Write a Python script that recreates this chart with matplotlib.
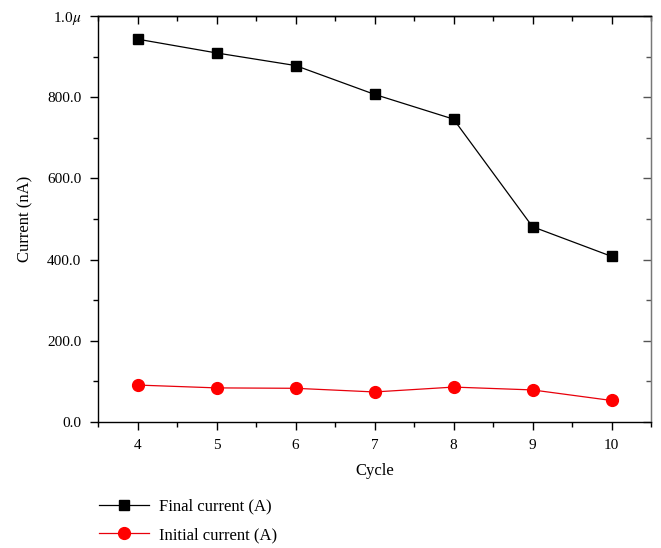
import matplotlib
matplotlib.use("Agg")
import matplotlib.pyplot as plt
from matplotlib.ticker import MultipleLocator, FixedLocator

plt.rcParams['font.family'] = ['Liberation Serif', 'DejaVu Serif']
plt.rcParams['mathtext.fontset'] = 'stix'

cycles = [4, 5, 6, 7, 8, 9, 10]
final_current = [943, 909, 878, 807, 746, 481, 408]
initial_current = [91, 84, 83, 74, 86, 79, 53]
ytick_values = [0, 200, 400, 600, 800, 1000]
ytick_labels = ['0.0', '200.0', '400.0', '600.0', '800.0', r'1.0$\mu$']
series_labels = ['Final current (A)', 'Initial current (A)']

W, H = 661, 548
fig = plt.figure(figsize=(W / 100, H / 100), dpi=100)
ax = fig.add_axes([98 / W, 1 - 422 / H, (651 - 98) / W, (422 - 16) / H])

l1, = ax.plot(cycles, final_current, color='black', lw=0.9, marker='s', ms=7.5,
              markerfacecolor='black', markeredgecolor='black', label=series_labels[0])
l2, = ax.plot(cycles, initial_current, color='#e8000b', lw=0.9, marker='o', ms=8.5,
              markerfacecolor='#ff0000', markeredgecolor='#ff0000', label=series_labels[1])

ax.set_xlim(3.5, 10.5)
ax.set_ylim(0, 1000)
ax.xaxis.set_major_locator(FixedLocator(cycles))
ax.xaxis.set_minor_locator(MultipleLocator(0.5))
ax.yaxis.set_major_locator(FixedLocator(ytick_values))
ax.yaxis.set_minor_locator(MultipleLocator(100))
ax.set_yticklabels(ytick_labels)

ax.tick_params(which='major', direction='out', length=6, width=1, labelsize=11, pad=6)
ax.tick_params(which='minor', direction='out', length=3.5, width=1)

for s in ax.spines.values():
    s.set_linewidth(1.0)
ax.spines['right'].set_color('#777777')

sx = ax.secondary_xaxis('top')
sx.xaxis.set_major_locator(FixedLocator(cycles))
sx.xaxis.set_minor_locator(MultipleLocator(0.5))
sx.tick_params(which='major', direction='in', length=6, width=1, labeltop=False)
sx.tick_params(which='minor', direction='in', length=3.5, width=1)
sx.spines['top'].set_linewidth(1.0)

sy = ax.secondary_yaxis('right')
sy.yaxis.set_major_locator(FixedLocator(ytick_values))
sy.yaxis.set_minor_locator(MultipleLocator(100))
sy.tick_params(which='major', direction='in', length=6, width=1, labelright=False, color='#555555')
sy.tick_params(which='minor', direction='in', length=3.5, width=1, color='#555555')
sy.spines['right'].set_color('#777777')

ax.set_xlabel('Cycle', fontsize=12, labelpad=8)
ax.set_ylabel('Current (nA)', fontsize=12, labelpad=10)

fig.legend(handles=[l1, l2], loc='upper left', bbox_to_anchor=(92 / W, 1 - 492 / H),
           frameon=False, fontsize=12, handlelength=3.0, handletextpad=0.6,
           labelspacing=0.75, borderaxespad=0)

fig.savefig('out.png', dpi=100)
